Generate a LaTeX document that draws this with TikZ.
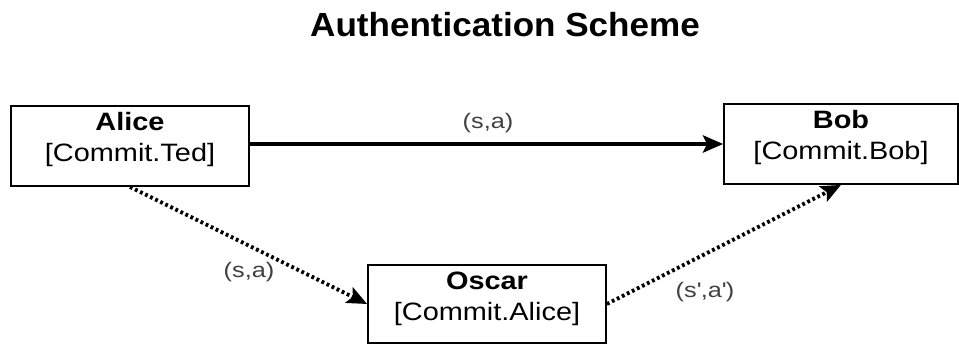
\documentclass[tikz,border=0pt]{standalone}
\usepackage{fontspec}
\setmainfont{Liberation Sans}
\newfontfamily\boxfont[FakeStretch=1.15]{Liberation Sans}
\newfontfamily\titlefont[FakeStretch=1.05]{Liberation Sans}
\newfontfamily\lblfont[FakeStretch=1.2]{Liberation Sans}
\usetikzlibrary{arrows.meta}
\tikzset{
    party/.style={draw, rectangle, line width=1pt, minimum width=4.76cm,
    	minimum height=1.6cm, align=center, inner sep=0pt,
    	text height=1.1cm, text depth=0.5cm,
    	font=\boxfont\fontsize{14.3}{17.6}\selectfont}
}
\tikzset{
    msg/.style={line width=2.5pt, -{Stealth[length=0.4cm, width=0.34cm, inset=0.08cm]}},
    spy/.style={msg, line width=2.2pt, dash pattern=on 1.6pt off 1.6pt}
}
\tikzset{
	lbl/.style={text=black!75, font=\lblfont\fontsize{12}{14}\selectfont}
}

\begin{document}
\begin{tikzpicture}
  \useasboundingbox (0cm, 0cm) rectangle (19.18cm, -6.9cm);
  \node (title) [anchor=base, font=\titlefont\fontsize{19}{22}\selectfont\bfseries] at (10.1cm, -0.72cm) {Authentication Scheme};

  \node (alice) [party] at (2.60cm, -2.92cm) {\textbf{Alice}\\{}[Commit.Ted]};
  \node (bob) [party, minimum width=4.68cm] at (16.82cm, -2.88cm) {\textbf{Bob}\\{}[Commit.Bob]};
  \node (oscar) [party, minimum height=1.56cm, text depth=0.46cm] at (9.74cm, -6.08cm) {\textbf{Oscar}\\{}[Commit.Alice]};

  \node (l1) [lbl] at (9.76cm, -2.46cm) {(s,a)};
  \node (l2) [lbl] at (4.98cm, -5.45cm) {(s,a)};
  \node (l3) [lbl] at (14.1cm, -5.85cm) {(s\textquotesingle,a\textquotesingle)};

  \draw [msg] (alice.east |- 0, -2.88cm) -- (bob.west);
  \draw [spy] (alice.south) -- (oscar.west);
  \draw [spy] (oscar.east) -- (bob.south);
\end{tikzpicture}
\end{document}
